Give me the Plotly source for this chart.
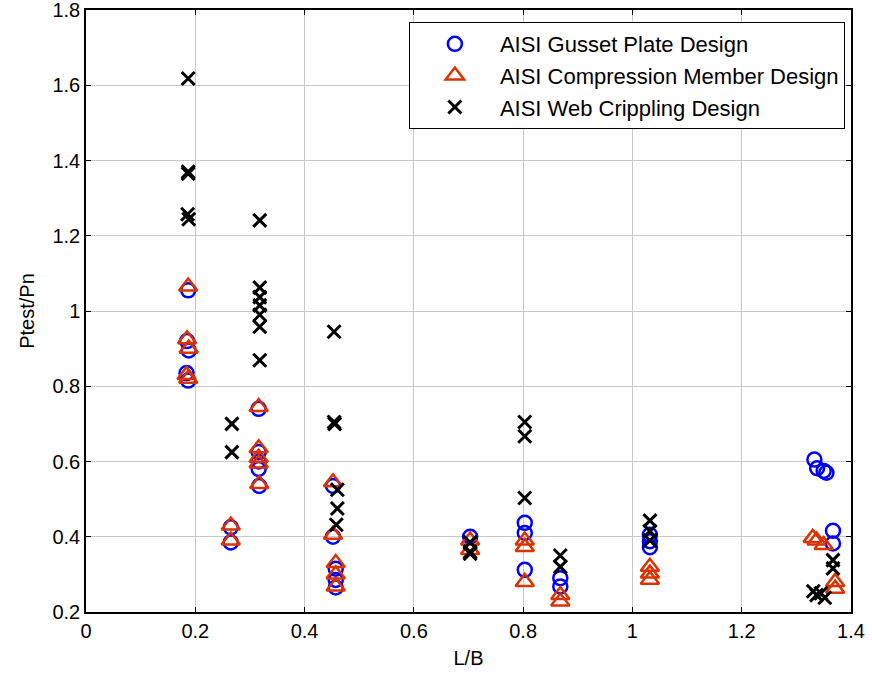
import plotly.graph_objects as go

# AISI Gusset Plate Design (blue circles)
gusset_x = [0.187, 0.185, 0.188, 0.184, 0.187,
            0.265, 0.265,
            0.316, 0.316, 0.316, 0.316, 0.317,
            0.452, 0.452, 0.457, 0.457, 0.457,
            0.703,
            0.803, 0.803, 0.803,
            0.868, 0.868,
            1.032, 1.032, 1.032,
            1.333, 1.338, 1.350, 1.355, 1.367, 1.367]
gusset_y = [1.055, 0.920, 0.895, 0.835, 0.815,
            0.425, 0.385,
            0.740, 0.625, 0.600, 0.580, 0.535,
            0.535, 0.400, 0.315, 0.285, 0.265,
            0.400,
            0.437, 0.410, 0.312,
            0.290, 0.268,
            0.405, 0.388, 0.372,
            0.605, 0.582, 0.575, 0.570, 0.416, 0.382]

# AISI Compression Member Design (red triangles)
comp_x = [0.187, 0.185, 0.188, 0.184, 0.187,
          0.265, 0.265,
          0.316, 0.316, 0.316, 0.316, 0.317,
          0.452, 0.452, 0.457, 0.457, 0.457,
          0.703, 0.703,
          0.803, 0.803, 0.803,
          0.868, 0.868,
          1.032, 1.032, 1.032,
          1.330, 1.337, 1.350, 1.371, 1.371]
comp_y = [1.065, 0.925, 0.900, 0.830, 0.820,
          0.430, 0.390,
          0.745, 0.635, 0.610, 0.595, 0.540,
          0.545, 0.405, 0.330, 0.300, 0.268,
          0.390, 0.365,
          0.390, 0.373, 0.280,
          0.245, 0.228,
          0.320, 0.302, 0.286,
          0.397, 0.390, 0.378, 0.280, 0.262]

# AISI Web Crippling Design (black crosses)
web_x = [0.187, 0.187, 0.187, 0.186, 0.188,
         0.267, 0.267,
         0.318, 0.318, 0.318, 0.318, 0.318, 0.318, 0.318,
         0.454, 0.454, 0.455, 0.460, 0.460, 0.458,
         0.703, 0.703, 0.703,
         0.803, 0.803, 0.803,
         0.868, 0.868,
         1.032, 1.032, 1.032,
         1.331, 1.337, 1.345, 1.352, 1.367, 1.367]
web_y = [1.618, 1.370, 1.365, 1.257, 1.244,
         0.700, 0.625,
         1.241, 1.062, 1.037, 1.015, 0.990, 0.958, 0.869,
         0.945, 0.705, 0.700, 0.525, 0.475, 0.432,
         0.385, 0.360, 0.355,
         0.705, 0.667, 0.503,
         0.350, 0.320,
         0.443, 0.415, 0.390,
         0.255, 0.245, 0.250, 0.238, 0.338, 0.316]

x_ticks = [0, 0.2, 0.4, 0.6, 0.8, 1, 1.2, 1.4]
x_tick_labels = ["0", "0.2", "0.4", "0.6", "0.8", "1", "1.2", "1.4"]
y_ticks = [0.2, 0.4, 0.6, 0.8, 1, 1.2, 1.4, 1.6, 1.8]
y_tick_labels = ["0.2", "0.4", "0.6", "0.8", "1", "1.2", "1.4", "1.6", "1.8"]

FONT = "Liberation Sans, Arial, sans-serif"
RED = "#d93300"

fig = go.Figure()
fig.add_trace(go.Scatter(
    x=gusset_x, y=gusset_y, mode="markers", name="AISI Gusset Plate Design",
    marker=dict(symbol="circle-open", size=14, color="#0000ff",
                line=dict(width=2.5, color="#0000ff"))))
fig.add_trace(go.Scatter(
    x=comp_x, y=comp_y, mode="markers", name="AISI Compression Member Design",
    marker=dict(symbol="triangle-up-open", size=16, color=RED,
                line=dict(width=2.5, color=RED))))
fig.add_trace(go.Scatter(
    x=web_x, y=web_y, mode="markers", name="AISI Web Crippling Design",
    marker=dict(symbol="x-thin-open", size=13, color="#000000",
                line=dict(width=3, color="#000000"))))

axis_common = dict(
    showline=True, linecolor="black", linewidth=1.5, mirror="ticks",
    ticks="inside", ticklen=5, tickcolor="black", tickwidth=1,
    showgrid=True, gridcolor="#c8c8c8", gridwidth=1, zeroline=False,
    automargin=False, ticklabeloverflow="allow",
    tickfont=dict(family=FONT, size=20, color="black"),
)

fig.update_xaxes(range=[0, 1.4], tickmode="array", tickvals=x_ticks, ticktext=x_tick_labels,
                 title=dict(text="L/B", font=dict(family=FONT, size=20, color="black"), standoff=10),
                 **axis_common)
fig.update_yaxes(range=[0.2, 1.8], tickmode="array", tickvals=y_ticks, ticktext=y_tick_labels,
                 title=dict(text="Ptest/Pn", font=dict(family=FONT, size=20, color="black"), standoff=12),
                 **axis_common)

fig.update_layout(
    width=872, height=676,
    margin=dict(l=86, r=21, t=10, b=64),
    plot_bgcolor="white", paper_bgcolor="white",
    font=dict(family=FONT, size=20, color="black"),
    showlegend=True,
    legend=dict(x=0.992, y=0.980, xanchor="right", yanchor="top",
                bgcolor="white", bordercolor="black", borderwidth=1,
                font=dict(family=FONT, size=22, color="black"),
                itemwidth=80, tracegroupgap=0),
)

fig.write_html("out.html", config={"displayModeBar": False},
               post_script="document.body.style.margin='0';")
